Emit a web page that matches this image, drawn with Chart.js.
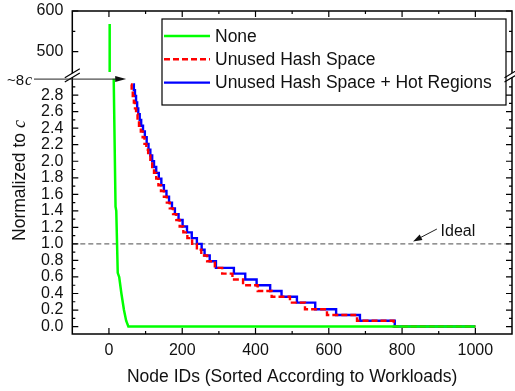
<!DOCTYPE html>
<html>
<head>
<meta charset="utf-8">
<script src="https://cdn.jsdelivr.net/npm/chart.js@4.4.1/dist/chart.umd.min.js"></script>
<style>
  html, body { margin: 0; padding: 0; background: #fff; }
  #chart { display: block; }
</style>
</head>
<body>
<canvas id="chart" width="515" height="391"></canvas>
<script>
// Load per node (normalized to c), nodes sorted by workload.
// "None" peaks far above the rest, so it is split over the upper axis segment.
const noneTopNodes = [2, 2];
const noneTopLoad = [568, 450];
const noneNodes = [13, 18, 20, 24, 28, 34, 41, 47, 53, 1000];
const noneLoad = [3.0, 1.45, 1.4, 0.65, 0.6, 0.4, 0.2, 0.07, 0, 0];

// step starts: load holds until the next node id
const hashNodes = [60, 62, 65, 68, 71, 74, 78, 82, 87, 92, 97, 102, 107, 113, 118, 123, 129, 135, 142, 150,
  158, 166, 175, 184, 193, 203, 214, 227, 240, 252, 268, 289, 309, 337, 366, 406, 444, 494, 535, 595,
  677, 777, 1000];
const hashLoad = [2.93, 2.86, 2.79, 2.71, 2.64, 2.57, 2.50, 2.43, 2.36, 2.29, 2.21, 2.14, 2.07, 2.00, 1.93,
  1.86, 1.79, 1.71, 1.64, 1.57, 1.50, 1.43, 1.36, 1.29, 1.21, 1.14, 1.07, 1.00, 0.93, 0.86, 0.79, 0.71,
  0.64, 0.57, 0.50, 0.43, 0.36, 0.29, 0.21, 0.14, 0.07, 0, 0];

const hotNodes = [66, 68, 71, 74, 77, 80, 84, 88, 93, 98, 103, 108, 113, 118, 123, 129, 136, 143, 150, 157,
  164, 172, 180, 190, 201, 213, 226, 240, 253, 261, 275, 292, 341, 372, 403, 440, 471, 513, 563, 620,
  685, 780, 1000];
const hotLoad = [2.93, 2.86, 2.79, 2.71, 2.64, 2.57, 2.50, 2.43, 2.36, 2.29, 2.21, 2.14, 2.07, 2.00, 1.93,
  1.86, 1.79, 1.71, 1.64, 1.57, 1.50, 1.43, 1.36, 1.29, 1.21, 1.14, 1.07, 1.00, 0.93, 0.86, 0.79, 0.71,
  0.64, 0.57, 0.50, 0.43, 0.36, 0.29, 0.21, 0.14, 0.07, 0, 0];

const idealNodes = [-100, 1100];
const idealLoad = [1.0, 1.0];

const xTicks = [0, 200, 400, 600, 800, 1000];
const xMinorTicks = [100, 300, 500, 700, 900];
const yTicks = [0.0, 0.2, 0.4, 0.6, 0.8, 1.0, 1.2, 1.4, 1.6, 1.8, 2.0, 2.2, 2.4, 2.6, 2.8];
const yMinorTicks = [0.1, 0.3, 0.5, 0.7, 0.9, 1.1, 1.3, 1.5, 1.7, 1.9, 2.1, 2.3, 2.5, 2.7, 2.9];
const yTopTicks = [500, 600];
const yTopMinorTicks = [550];

const GREEN = '#00ff00';
const RED = '#ff0000';
const BLUE = '#0000ff';
const SANS = "'Liberation Sans', Arial, sans-serif";
const SERIF = "'Liberation Serif', 'Times New Roman', serif";

Chart.defaults.font.family = SANS;
Chart.defaults.color = '#111';

const toPoints = (xs, ys) => xs.map((x, i) => ({ x, y: ys[i] }));

function arrow(ctx, x0, y0, x1, y1, head) {
  const ang = Math.atan2(y1 - y0, x1 - x0);
  ctx.beginPath();
  ctx.moveTo(x0, y0);
  ctx.lineTo(x1 - Math.cos(ang) * head * 0.8, y1 - Math.sin(ang) * head * 0.8);
  ctx.stroke();
  ctx.beginPath();
  ctx.moveTo(x1, y1);
  ctx.lineTo(x1 - head * Math.cos(ang) + 3 * Math.sin(ang), y1 - head * Math.sin(ang) - 3 * Math.cos(ang));
  ctx.lineTo(x1 - head * Math.cos(ang) - 3 * Math.sin(ang), y1 - head * Math.sin(ang) + 3 * Math.cos(ang));
  ctx.closePath();
  ctx.fill();
}

function axisBreak(ctx, cx, cy) {
  const dx = 7.5, dy = 4.5, gap = 2.2;
  ctx.fillStyle = '#fff';
  ctx.beginPath();
  ctx.moveTo(cx - dx, cy - gap + dy);
  ctx.lineTo(cx + dx, cy - gap - dy);
  ctx.lineTo(cx + dx, cy + gap - dy);
  ctx.lineTo(cx - dx, cy + gap + dy);
  ctx.closePath();
  ctx.fill();
  ctx.beginPath();
  ctx.moveTo(cx - dx, cy - gap + dy);
  ctx.lineTo(cx + dx, cy - gap - dy);
  ctx.moveTo(cx - dx, cy + gap + dy);
  ctx.lineTo(cx + dx, cy + gap - dy);
  ctx.stroke();
}

const decorations = {
  id: 'decorations',
  afterDraw(chart) {
    const { ctx, chartArea: a, scales } = chart;
    const sx = scales.x, sy = scales.y, st = scales.yTop;
    ctx.save();

    // frame
    ctx.strokeStyle = '#000';
    ctx.lineWidth = 1.5;
    ctx.strokeRect(a.left, a.top, a.right - a.left, a.bottom - a.top);

    // inward tick marks on all four sides
    ctx.lineWidth = 1.2;
    ctx.beginPath();
    const xt = (v, len) => {
      const p = sx.getPixelForValue(v);
      ctx.moveTo(p, a.bottom); ctx.lineTo(p, a.bottom - len);
      ctx.moveTo(p, a.top); ctx.lineTo(p, a.top + len);
    };
    const yt = (scale, v, len) => {
      const p = scale.getPixelForValue(v);
      ctx.moveTo(a.left, p); ctx.lineTo(a.left + len, p);
      ctx.moveTo(a.right, p); ctx.lineTo(a.right - len, p);
    };
    xTicks.forEach(v => xt(v, 6));
    xMinorTicks.forEach(v => xt(v, 3));
    yTicks.forEach(v => yt(sy, v, 6));
    yMinorTicks.forEach(v => yt(sy, v, 3));
    yTopTicks.forEach(v => yt(st, v, 6));
    yTopMinorTicks.forEach(v => yt(st, v, 3));
    ctx.stroke();

    // axis breaks between the two y segments
    const by = (st.getPixelForValue(450) + sy.getPixelForValue(3.0)) / 2;
    ctx.strokeStyle = '#000';
    ctx.lineWidth = 1.2;
    axisBreak(ctx, a.left, by);
    axisBreak(ctx, a.right, by);

    // y title: "Normalized to c"
    ctx.fillStyle = '#111';
    ctx.textBaseline = 'alphabetic';
    ctx.save();
    ctx.translate(25, (a.top + a.bottom) / 2 + 8);
    ctx.rotate(-Math.PI / 2);
    ctx.font = '17.5px ' + SANS;
    const t1 = 'Normalized to ';
    const w1 = ctx.measureText(t1).width;
    ctx.font = 'italic 18px ' + SERIF;
    const w2 = ctx.measureText('c').width;
    const x0 = -(w1 + w2) / 2;
    ctx.font = '17.5px ' + SANS;
    ctx.fillText(t1, x0, 0);
    ctx.font = 'italic 18px ' + SERIF;
    ctx.fillText('c', x0 + w1, 0);
    ctx.restore();

    // "~8c" marker for the off-scale start of the curves
    ctx.font = '15px ' + SANS;
    ctx.fillText('~8', 7, 84.5);
    const w8 = ctx.measureText('~8').width;
    ctx.font = 'italic 16px ' + SERIF;
    ctx.fillText('c', 7 + w8 + 1, 84.5);
    ctx.strokeStyle = '#222';
    ctx.fillStyle = '#111';
    ctx.lineWidth = 1;
    arrow(ctx, 34, sy.getPixelForValue(3.0) + 0.5, sx.getPixelForValue(47), sy.getPixelForValue(3.0) + 0.5, 11);

    // "Ideal" label
    arrow(ctx, sx.getPixelForValue(895), sy.getPixelForValue(1.18),
      sx.getPixelForValue(830), sy.getPixelForValue(1.03), 9);
    ctx.font = '16px ' + SANS;
    ctx.fillText('Ideal', sx.getPixelForValue(905), sy.getPixelForValue(1.1));

    // legend box
    const lb = { left: 162, top: 19, right: 506, bottom: 105 };
    ctx.strokeStyle = '#000';
    ctx.lineWidth = 1.2;
    ctx.strokeRect(lb.left, lb.top, lb.right - lb.left, lb.bottom - lb.top);
    let ry = lb.top + 17;
    chart.data.datasets.filter(ds => ds.inLegend).forEach(ds => {
      ctx.beginPath();
      ctx.setLineDash(ds.borderDash || []);
      ctx.strokeStyle = ds.borderColor;
      ctx.lineWidth = ds.borderWidth;
      ctx.moveTo(lb.left + 2, ry);
      ctx.lineTo(lb.left + 48, ry);
      ctx.stroke();
      ctx.setLineDash([]);
      ctx.fillStyle = '#111';
      ctx.font = '17.5px ' + SANS;
      ctx.textBaseline = 'middle';
      ctx.fillText(ds.label, lb.left + 53, ry + 1);
      ry += 23.3;
    });

    ctx.restore();
  }
};

const hiddenGrid = { display: false, drawTicks: false };

// fixed axis box sizes so the plot area lands at 72..512 x 11..334
const fitY = s => { s.width = 72.3; s.paddingTop = 0; s.paddingBottom = 0; };

new Chart(document.getElementById('chart'), {
  type: 'line',
  data: {
    datasets: [
      { label: 'None', data: toPoints(noneNodes, noneLoad), yAxisID: 'y',
        borderColor: GREEN, borderWidth: 2.5, inLegend: true },
      { label: 'None', data: toPoints(noneTopNodes, noneTopLoad), yAxisID: 'yTop',
        borderColor: GREEN, borderWidth: 2.5 },
      { label: 'Unused Hash Space', data: toPoints(hashNodes, hashLoad), yAxisID: 'y', stepped: true,
        borderColor: RED, borderWidth: 2.4, borderDash: [6, 3], inLegend: true },
      { label: 'Unused Hash Space + Hot Regions', data: toPoints(hotNodes, hotLoad), yAxisID: 'y', stepped: true,
        borderColor: BLUE, borderWidth: 2.4, inLegend: true },
      { label: 'Ideal', data: toPoints(idealNodes, idealLoad), yAxisID: 'y',
        borderColor: '#707070', borderWidth: 1.3, borderDash: [5, 3] }
    ]
  },
  options: {
    responsive: false,
    devicePixelRatio: 1,
    animation: false,
    layout: { padding: { top: 11, right: 3, bottom: 0, left: 0 } },
    elements: { point: { radius: 0 }, line: { tension: 0, fill: false } },
    plugins: { legend: { display: false }, tooltip: { enabled: false } },
    scales: {
      x: {
        type: 'linear', min: -100, max: 1100,
        grid: hiddenGrid, border: { display: false },
        ticks: { font: { size: 16 }, padding: 7, autoSkip: false, maxRotation: 0, callback: v => String(v) },
        afterBuildTicks: s => { s.ticks = xTicks.map(value => ({ value })); },
        afterFit: s => { s.height = 57; s.paddingLeft = 0; s.paddingRight = 0; },
        title: { display: true, text: 'Node IDs (Sorted According to Workloads)',
          font: { size: 17.5 }, padding: { top: 0, bottom: 3 } }
      },
      y: {
        type: 'linear', position: 'left', stack: 'load', stackWeight: 255.4,
        min: -0.09, max: 3.0,
        grid: hiddenGrid, border: { display: false },
        ticks: { font: { size: 16 }, padding: 9, autoSkip: false, callback: v => v.toFixed(1) },
        afterBuildTicks: s => { s.ticks = yTicks.map(value => ({ value })); },
        afterFit: fitY
      },
      yTop: {
        type: 'linear', position: 'left', stack: 'load', stackWeight: 67.6,
        min: 434, max: 600,
        grid: hiddenGrid, border: { display: false },
        ticks: { font: { size: 16 }, padding: 9, autoSkip: false, callback: v => String(v) },
        afterBuildTicks: s => { s.ticks = yTopTicks.map(value => ({ value })); },
        afterFit: fitY
      }
    }
  },
  plugins: [decorations]
});
</script>
</body>
</html>
